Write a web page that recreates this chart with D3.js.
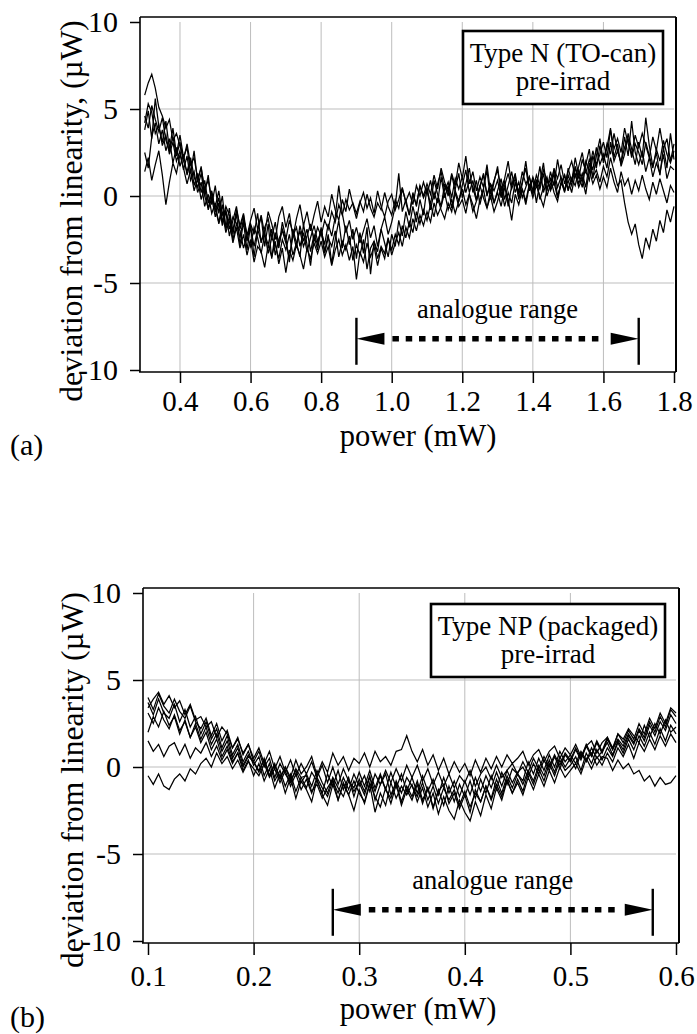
<!DOCTYPE html>
<html><head><meta charset="utf-8">
<script src="https://cdn.jsdelivr.net/npm/d3@7"></script>
<style>
body{margin:0;background:#fff}
svg{display:block}
text{font-family:"Liberation Serif","Times New Roman",Times,serif;fill:#000}
</style>
</head><body>
<svg id="chart" width="697" height="1034"></svg>
<script>
// ---------------- data ----------------
const yTicks = [-10, -5, 0, 5, 10];
const yTickLabels = ["-10", "-5", "0", "5", "10"];
const yGrid = [-5, 0, 5];

// panel (a): Type N (TO-can)
const aXTicks = [0.4, 0.6, 0.8, 1.0, 1.2, 1.4, 1.6, 1.8];
const aXTickLabels = ["0.4", "0.6", "0.8", "1.0", "1.2", "1.4", "1.6", "1.8"];
const aXGrid = [0.4, 0.6, 0.8, 1.0, 1.2, 1.4, 1.6];
const aPowerStart = 0.30, aPowerStep = 0.01;
const aTrace1 = [
 5.8, 6.5, 7.0, 6.2, 5.1, 4.6, 3.9, 4.4, 3.2, 3.6,
 2.9, 2.1, 3.0, 1.8, 2.2, 1.0, 1.6, 0.4, 0.9, -0.2,
 -0.6, 0.3, -1.1, -0.8, -1.9, -1.2, -1.6, -2.4, -1.3, -2.2,
 -1.8, -2.9, -1.9, -2.6, -2.1, -3.3, -2.4, -2.8, -3.6, -2.5,
 -3.1, -2.2, -3.4, -2.7, -2.0, -2.9, -2.3, -1.6, -2.6, -1.8,
 -2.3, -1.4, -1.9, -0.9, -1.5, -0.5, -1.1, -0.2, -0.8, -0.4,
 -1.0, -0.3, -0.9, 0.1, -0.7, -1.2, -0.4, -0.8, 0.2, -0.6,
 -1.1, -0.2, -0.7, 0.4, -0.3, 0.2, -0.5, 0.6, 0.0, 0.8,
 0.1, 0.9, -0.2, 0.7, 1.4, 0.3, 0.8, -0.1, 1.0, 0.4,
 1.1, 0.2, 0.9, 0.5, -0.3, 0.6, 1.2, 0.1, 0.7, 0.3,
 0.9, -0.1, 0.6, 1.3, 0.4, 1.0, 0.2, 1.4, 0.7, 1.1,
 0.3, 1.2, 0.6, 1.5, 0.9, 0.4, 1.6, 1.0, 1.8, 0.7,
 1.4, 2.0, 1.1, 1.7, 2.5, 1.3, 2.1, 1.5, 2.8, 1.8,
 2.4, 1.6, 3.1, 2.0, 2.6, 1.9, 3.4, 2.3, 4.3, 2.5,
 1.8, 2.6, 1.4, 2.2, 1.1, 1.9, 1.3, 2.4, 1.0, 1.7,
 1.5];
const aTrace2 = [
 4.2, 5.3, 4.8, 3.6, 4.1, 2.9, 3.5, 2.4, 3.1, 2.0,
 2.6, 1.5, 2.3, 0.9, 1.4, 0.2, 0.8, -0.6, 0.1, -1.0,
 -0.4, -1.6, -0.9, -2.1, -1.4, -2.7, -1.8, -3.0, -2.2, -3.4,
 -2.5, -3.8, -2.9, -3.2, -4.1, -2.8, -3.5, -2.6, -3.9, -3.0,
 -4.4, -3.1, -3.7, -2.8, -3.4, -4.2, -3.0, -3.6, -2.7, -3.3,
 -2.6, -3.5, -2.9, -4.0, -3.1, -2.5, -3.4, -2.8, -3.7, -2.9,
 -4.8, -3.2, -3.8, -2.7, -3.5, -2.9, -4.0, -3.0, -3.6, -2.5,
 -3.1, -2.2, -2.8, -1.7, -2.4, -1.5, -2.1, -0.9, -1.6, -0.8,
 -1.4, -0.5, -1.2, -0.1, -0.8, -1.3, -0.4, -0.9, 0.2, -0.6,
 -0.2, -1.0, 0.1, -0.5, -1.3, -0.2, 0.4, -0.7, 0.0, -0.9,
 -0.3, 0.5, -0.6, 0.2, -0.4, 0.8, -0.1, 0.4, -0.5, 0.6,
 0.1, 0.9, -0.2, 0.5, 1.1, 0.3, 0.8, -0.1, 0.7, 1.2,
 0.4, 1.0, 1.6, 0.7, 1.3, 0.5, 1.9, 1.1, 1.5, 0.8,
 1.7, 1.1, 2.2, 1.4, 0.6, 0.9, -0.4, -1.5, -2.2, -1.6,
 -2.8, -3.6, -2.4, -3.0, -1.9, -2.6, -1.4, -2.1, -0.8, -1.5,
 -0.6];
const aTrace3 = [
 2.5, 1.6, 3.4, 4.2, 3.0, 3.8, 2.6, 3.3, 1.9, 2.8,
 1.7, 2.4, 1.2, 2.0, 0.6, 1.3, 0.2, 0.9, -0.4, 0.3,
 -0.9, -0.1, -1.5, -0.6, -1.1, -2.0, -0.8, -1.7, -1.0, -2.3,
 -1.4, -0.7, -1.9, -1.1, -2.2, -0.9, -1.6, -2.5, -1.2, -0.6,
 -1.8, -1.0, -2.4, -1.3, -0.5, -1.7, -0.9, -2.0, -1.1, -0.3,
 -1.5, -0.6, -1.2, 0.1, -0.8, -1.4, -0.2, -0.9, 0.4, -0.5,
 -1.3, -0.4, 0.2, -0.7, -0.1, -1.0, 0.3, -0.6, -1.2, -0.3,
 0.1, -0.8, -0.2, 0.5, -0.4, -1.1, 0.2, -0.6, 0.6, -0.1,
 0.4, -0.5, 0.9, 0.1, -0.6, 0.7, 0.0, 1.2, 0.3, -0.3,
 0.6, 1.5, 0.2, 0.9, -0.2, 0.5, 1.3, 0.0, 0.7, -0.4,
 0.3, 1.0, -0.2, 0.6, 1.4, 0.2, 0.8, -0.1, 0.5, 1.1,
 0.2, 0.9, 0.4, 1.3, 0.0, 0.7, 1.5, 0.5, 1.1, 0.3,
 1.2, 0.6, 1.7, 1.0, 2.1, 1.4, 0.9, 2.3, 1.6, 2.9,
 2.0, 3.0, 2.4, 3.6, 2.6, 1.9, 2.8, 3.3, 2.2, 3.0,
 2.5, 1.8, 3.1, 2.3, 1.6, 2.7, 2.0, 3.2, 2.4, 1.9,
 2.6];
const aTrace4 = [
 1.4, 2.2, 0.9, 1.8, 2.6, 1.2, -0.5, 0.8, 1.9, 1.3,
 2.4, 1.6, 0.7, 1.5, 0.3, 1.0, -0.2, 0.5, -0.8, -0.1,
 -1.2, -0.4, -1.7, -0.9, -2.3, -1.4, -0.6, -1.9, -1.1, -2.6,
 -1.6, -2.2, -1.0, -2.7, -1.8, -1.3, -2.4, -1.5, -2.9, -1.9,
 -2.5, -1.4, -2.1, -3.0, -1.7, -2.6, -1.9, -3.2, -2.2, -2.8,
 -1.9, -3.3, -2.4, -2.9, -2.0, -3.5, -2.6, -3.1, -2.3, -3.7,
 -2.8, -3.4, -2.5, -4.2, -3.0, -2.6, -3.6, -2.9, -3.3, -2.4,
 -3.4, -2.7, -2.1, -2.9, -1.8, -2.4, -1.3, -2.0, -1.1, -1.7,
 -0.9, -1.5, -0.4, -1.1, -0.6, 0.2, -0.8, -0.2, -1.0, -0.3,
 0.4, -0.5, 0.1, -0.9, -0.3, 0.6, -0.1, -0.7, 0.3, -0.4,
 0.2, -0.6, 0.5, -0.2, -1.4, 0.1, -0.5, 0.4, -0.3, 0.7,
 -0.1, 0.6, 0.0, -0.6, 0.4, 1.0, 0.2, -0.3, 0.8, 0.3,
 0.9, 0.2, 1.3, 0.5, 1.0, 0.1, 1.5, 0.7, 1.2, 0.4,
 1.1, 0.5, 1.6, 0.8, 0.2, 1.4, 0.6, 1.0, 0.1, 0.9,
 0.3, 1.2, 0.4, -0.2, 0.8, 0.1, 1.0, 0.3, -0.4, 0.6,
 0.2];
const aTrace5 = [
 4.6, 3.9, 5.2, 4.4, 3.7, 4.5, 3.2, 2.6, 3.4, 2.3,
 3.1, 2.0, 1.4, 2.2, 1.1, 0.5, 1.3, 0.0, -0.7, 0.2,
 -0.8, -1.5, -0.5, -1.9, -1.2, -2.5, -1.6, -2.0, -3.0, -2.3,
 -2.9, -1.8, -2.4, -3.3, -2.2, -2.8, -1.9, -3.4, -2.5, -2.0,
 -2.7, -3.6, -2.3, -1.8, -2.9, -2.1, -3.2, -2.4, -1.7, -2.6,
 -2.0, -2.8, -1.6, -2.3, -1.2, 0.6, -1.0, -2.1, -1.4, -2.5,
 -1.8, -2.7, -2.0, -1.3, -2.4, -1.7, -2.9, -1.9, -1.2, -2.2,
 -1.5, -0.6, 1.3, -0.9, -0.2, -1.1, 0.1, -0.5, 0.6, 0.0,
 0.7, 0.1, 1.2, 0.4, 1.6, 0.8, 0.2, 1.3, 0.6, 1.9,
 1.0, 2.3, 0.7, 1.4, 0.3, 1.1, 0.5, 1.8, 0.2, 0.9,
 1.5, 0.4, 1.0, 2.0, 0.6, 1.2, 0.1, 0.8, 1.6, 0.3,
 1.1, 0.5, 1.7, 0.2, 0.9, 0.4, 1.3, 0.0, 0.7, 1.2,
 0.3, 1.0, 0.6, 1.5, 0.9, 2.0, 1.4, 2.6, 1.8, 2.4,
 3.1, 2.2, 3.8, 2.7, 3.3, 2.5, 3.9, 3.0, 2.4, 3.5,
 2.8, 3.6, 2.9, 2.2, 3.4, 2.6, 3.9, 2.7, 3.3, 2.0,
 3.0];
const aTrace6 = [
 3.8, 4.9, 3.3, 5.6, 4.0, 3.1, 4.3, 2.7, 3.9, 2.4,
 3.5, 2.2, 2.8, 1.3, 2.6, 0.8, 1.7, 0.1, 1.2, -0.5,
 0.6, -1.0, 0.0, -1.8, -0.7, -2.2, -1.0, -2.8, -1.5, -3.1,
 -1.7, -3.5, -2.0, -1.2, -2.9, -1.6, -3.6, -2.1, -3.0, -1.5,
 -2.4, -3.8, -1.9, -2.7, -3.5, -1.6, -2.8, -4.0, -2.3, -3.1,
 -1.8, -3.2, -2.2, -3.9, -2.5, -1.4, -3.0, -1.7, -2.8, -1.9,
 -3.6, -2.1, -3.3, -1.8, -4.5, -2.6, -3.2, -1.9, -2.7, -3.5,
 -2.2, -2.9, -1.4, -2.3, -0.9, -1.8, -0.6, -1.5, -0.2, -1.1,
 0.5, -0.8, 0.2, -0.4, 1.1, -0.1, 0.6, -0.7, 0.4, 1.3,
 -0.1, 0.7, 1.6, 0.2, 0.9, -0.5, 0.4, 1.5, -0.2, 0.8,
 1.7, 0.0, 0.9, -0.6, 0.6, 1.3, -0.2, 0.7, 2.0, 0.4,
 1.0, -0.4, 0.8, 1.9, 0.3, 1.4, 0.6, 2.1, 0.9, 0.2,
 1.6, 0.8, 2.2, 1.2, 0.5, 1.8, 2.7, 1.0, 2.3, 3.3,
 1.9, 2.8, 3.9, 2.2, 3.0, 1.7, 2.4, 3.6, 2.7, 1.8,
 3.1, 2.2, 4.5, 2.9, 1.7, 2.5, 1.2, 2.8, 1.6, 3.6,
 2.1];
const aTraces = [aTrace1, aTrace2, aTrace3, aTrace4, aTrace5, aTrace6];
const aRange = [0.9, 1.7];

// panel (b): Type NP (packaged)
const bXTicks = [0.1, 0.2, 0.3, 0.4, 0.5, 0.6];
const bXTickLabels = ["0.1", "0.2", "0.3", "0.4", "0.5", "0.6"];
const bXGrid = [0.2, 0.3, 0.4, 0.5];
const bPowerStart = 0.10, bPowerStep = 0.005;
const bTrace1 = [
 3.4, 3.9, 4.3, 3.6, 4.1, 3.4, 3.8, 3.0, 3.6, 2.7,
 2.9, 2.3, 2.6, 1.7, 2.3, 1.9, 1.1, 1.6, 0.8, 1.3,
 0.3, 0.9, 0.0, 0.5, -0.6, 0.2, -0.4, -0.9, -0.1, -0.6,
 -1.2, -0.3, -0.8, -1.5, -0.4, -1.1, -0.2, -1.3, -0.6, -1.7,
 -0.7, -1.4, -0.5, -1.9, -1.0, -0.4, -1.6, -0.9, -2.0, -1.1,
 -1.7, -0.8, -1.9, -1.2, -2.3, -1.4, -1.0, -2.1, -1.5, -2.4,
 -1.6, -2.6, -1.3, -2.0, -1.1, -1.8, -0.7, -1.5, -0.5, -1.2,
 -0.4, -1.0, -0.2, -0.8, 0.1, -0.5, 0.4, -0.3, 0.6, 0.0,
 0.5, -0.1, 0.8, 0.3, 1.1, 0.5, 0.9, 1.4, 0.7, 1.5,
 1.0, 1.8, 1.3, 2.1, 1.5, 2.4, 1.8, 2.6, 2.1, 3.0,
 2.5];
const bTrace2 = [
 3.1, 2.5, 3.4, 2.7, 2.2, 3.0, 2.1, 2.6, 1.7, 2.3,
 1.4, 2.0, 1.0, 1.6, 0.6, 1.2, 0.3, 0.8, -0.2, 0.4,
 -0.5, 0.2, -0.8, -0.1, -1.2, -0.4, -1.5, -0.6, -1.8, -0.8,
 -1.3, -2.0, -0.7, -1.6, -2.2, -1.0, -1.9, -0.9, -1.6, -2.5,
 -1.3, -2.1, -1.0, -2.6, -1.5, -2.2, -0.9, -1.8, -1.1, -1.6,
 -1.0, -2.0, -1.2, -2.3, -1.5, -2.7, -1.7, -2.5, -3.0, -1.9,
 -2.6, -3.1, -2.0, -2.8, -1.6, -2.4, -1.2, -1.9, -0.8, -1.5,
 -0.7, -1.4, -0.3, -1.0, -0.1, -0.8, 0.2, -0.5, 0.4, -0.2,
 0.1, 0.6, -0.2, 0.8, 0.2, 1.0, 0.4, 1.1, 0.6, 1.4,
 0.8, 1.6, 1.0, 1.8, 1.2, 2.0, 1.3, 2.2, 1.5, 2.4,
 1.9];
const bTrace3 = [
 2.0, 2.9, 2.3, 3.2, 2.4, 2.9, 1.9, 2.7, 1.7, 2.5,
 1.6, 2.3, 1.3, 1.9, 0.9, 1.5, 0.5, 1.1, 0.1, 0.7,
 0.3, -0.3, 0.5, -0.5, 0.2, -0.7, 0.0, -0.6, 0.4, -0.4,
 0.0, 0.6, -0.5, 0.3, -0.3, 0.8, 0.1, 0.6, -0.2, 0.5,
 0.2, 0.8, 0.0, 0.9, 0.3, 0.6, 0.1, 0.9, 1.0, 1.8,
 0.9, 0.3, 1.0, 0.1, 0.7, -0.2, 0.5, -0.4, 0.3, -0.3,
 0.2, -0.5, 0.4, -0.3, 0.5, -0.1, 0.6, 0.0, 0.7, 0.2,
 0.5, 0.9, 0.1, 0.7, 1.0, 0.3, 0.9, 1.2, 0.5, 1.1,
 0.7, 1.3, 0.6, 1.2, 1.5, 0.8, 1.4, 1.7, 1.0, 1.6,
 1.2, 1.9, 1.4, 2.2, 1.7, 2.6, 2.0, 2.9, 2.3, 3.3,
 2.9];
const bTrace4 = [
 1.5, 0.9, 1.3, 0.6, 1.2, 1.4, 0.7, 1.3, 0.5, 1.1,
 0.8, 1.4, 0.6, 1.2, 0.4, 1.0, 0.2, 0.8, 0.0, 0.6,
 0.3, -0.2, 0.4, -0.5, 0.1, -0.6, 0.0, -0.8, -0.2, -0.9,
 -0.4, -1.1, -0.2, -0.9, -1.5, -0.6, -1.2, -1.7, -0.8, -1.4,
 -0.9, -1.6, -0.6, -1.4, -0.5, -1.3, -1.8, -0.8, -1.5, -0.6,
 -1.1, -1.7, -0.9, -1.9, -1.1, -2.1, -1.2, -1.9, -1.3, -2.2,
 -1.4, -2.3, -1.5, -2.0, -1.1, -1.9, -1.0, -1.7, -0.7, -1.5,
 -0.9, -1.6, -0.6, -1.3, -0.4, -1.1, -0.2, -0.9, 0.0, -0.6,
 -0.2, 0.2, -0.4, 0.5, -0.1, 0.6, 0.1, 0.8, 0.3, 1.1,
 0.6, 1.3, 0.5, 1.4, 0.9, 1.6, 1.0, 1.8, 1.2, 1.9,
 1.4];
const bTrace5 = [
 -0.5, -1.0, -0.4, -1.1, -1.3, -0.7, -0.4, -0.8, -0.1, -0.4,
 0.2, 0.5, 0.0, 0.8, 0.2, 0.6, -0.1, 0.4, -0.3, 0.3,
 -0.1, -0.5, 0.2, -0.6, -0.1, -0.9, -0.2, -1.1, -0.4, -1.3,
 -0.7, -1.5, -0.6, -1.2, -1.7, -0.8, -1.5, -0.6, -1.3, -0.4,
 -1.1, -0.5, -1.4, -0.4, -1.0, -0.2, -0.9, -0.1, -0.8, 0.1,
 -0.6, 0.1, -0.8, -0.1, -1.0, -0.3, -1.1, -0.4, -1.2, -0.5,
 -0.9, -0.2, -1.1, -0.4, 0.0, -0.7, 0.1, -0.6, -0.2, 0.2,
 -0.4, 0.3, -0.3, 0.5, -0.1, 0.6, 0.0, 0.7, 0.1, 0.8,
 0.4, 1.1, 0.5, 1.3, 0.7, 1.5, 0.9, 1.7, 1.1, 1.9,
 1.6, 2.2, 1.8, 1.4, 2.4, 1.7, 2.5, 1.9, 2.7, 2.0,
 2.3];
const bTrace6 = [
 3.7, 3.0, 3.9, 3.1, 2.8, 3.6, 2.6, 3.3, 2.3, 2.9,
 1.9, 2.6, 1.6, 2.2, 1.1, 1.8, 0.7, 1.3, 0.3, 0.9,
 0.1, 0.6, -0.5, 0.2, -0.8, -0.2, -1.1, -0.4, -1.4, -0.6,
 -0.5, -1.4, -1.0, -1.8, -1.2, -0.7, -1.9, -1.0, -1.6, -0.8,
 -1.5, -2.0, -0.9, -1.7, -2.3, -1.2, -2.1, -1.0, -2.2, -1.3,
 -1.9, -1.0, -2.1, -1.2, -2.4, -1.3, -2.2, -1.1, -2.0, -1.0,
 -1.7, -0.8, -1.8, -0.7, -1.5, -0.5, -1.3, -0.3, -1.0, -0.1,
 -0.4, -0.8, 0.3, -0.4, 0.5, -0.2, 0.7, 0.0, 0.9, 0.3,
 0.7, 0.2, 0.9, 0.4, 0.8, 0.1, 0.6, 0.5, -0.2, 0.4,
 -0.1, 0.2, -0.4, -0.2, -0.8, -0.5, -1.1, -0.6, -1.0, -0.9,
 -0.5];
const bTrace7 = [
 4.0, 3.3, 4.2, 3.5, 3.1, 3.9, 3.2, 2.8, 3.5, 2.6,
 2.2, 2.8, 1.8, 2.5, 1.5, 2.1, 1.1, 1.7, 0.7, 1.3,
 0.5, 1.1, 0.2, 0.9, -0.1, 0.6, -0.3, 0.4, -0.5, 0.2,
 -0.4, 0.3, -0.6, 0.1, -0.9, 0.0, -1.0, -0.1, -0.8, -1.2,
 -0.3, -1.1, -0.2, -1.2, -0.4, -1.3, -0.3, -1.2, -0.4, -1.4,
 -0.6, -1.5, -0.5, -1.4, -0.7, -1.6, -0.6, -1.5, -0.8, -1.7,
 -0.8, -1.6, -0.6, -1.4, -0.5, -1.2, -0.3, -1.1, -0.2, -0.9,
 -0.3, 0.0, -0.6, 0.2, -0.4, 0.4, -0.2, 0.6, -0.1, 0.7,
 0.3, 1.0, 0.4, 1.2, 0.6, 1.4, 0.8, 1.6, 1.0, 1.9,
 1.4, 2.1, 1.6, 2.5, 1.9, 2.8, 2.2, 3.1, 2.5, 3.4,
 3.1];
const bTraces = [bTrace1, bTrace2, bTrace3, bTrace4, bTrace5, bTrace6, bTrace7];
const bRange = [0.275, 0.578];

const rangeLabel = "analogue range";
const xTitle = "power (mW)";

// ---------------- drawing ----------------
const svg = d3.select("#chart");
const FONT = '"Liberation Serif","Times New Roman",Times,serif';

function drawPanel(o) {
  const g = svg.append("g");
  const x = d3.scaleLinear().domain(o.xDomain).range(o.xRange);
  const y = d3.scaleLinear().domain([-10, 10]).range(o.yRange);
  const f = o.frame;

  // grid
  g.append("g").selectAll("line").data(o.xGrid).join("line")
    .attr("x1", d => x(d)).attr("x2", d => x(d))
    .attr("y1", y(10)).attr("y2", f.b)
    .attr("stroke", "#bdbdbd").attr("stroke-width", 1);
  g.append("g").selectAll("line").data(yGrid).join("line")
    .attr("x1", f.l).attr("x2", x(o.xDomain[1]))
    .attr("y1", d => y(d)).attr("y2", d => y(d))
    .attr("stroke", "#bdbdbd").attr("stroke-width", 1);

  // traces
  const line = d3.line()
    .x((d, i) => x(o.start + i * o.step))
    .y(d => y(d));
  g.append("g").selectAll("path").data(o.traces).join("path")
    .attr("d", line)
    .attr("fill", "none").attr("stroke", "#000")
    .attr("stroke-width", 1.25).attr("stroke-linejoin", "miter");

  // frame
  g.append("line").attr("x1", f.l).attr("x2", f.r).attr("y1", f.t).attr("y2", f.t)
    .attr("stroke", "#000").attr("stroke-width", 1.3);
  g.append("line").attr("x1", f.r).attr("x2", f.r).attr("y1", f.t).attr("y2", f.b)
    .attr("stroke", "#000").attr("stroke-width", 2);
  g.append("line").attr("x1", f.l).attr("x2", f.l).attr("y1", f.t).attr("y2", f.b)
    .attr("stroke", "#000").attr("stroke-width", 1.6);
  g.append("line").attr("x1", f.l - 1).attr("x2", f.r).attr("y1", f.b).attr("y2", f.b)
    .attr("stroke", "#000").attr("stroke-width", 1.6);

  // axes
  const ya = g.append("g").attr("transform", `translate(${f.l},0)`)
    .call(d3.axisLeft(y).tickValues(yTicks)
      .tickFormat((d, i) => yTickLabels[i])
      .tickSize(10).tickPadding(o.yPad).tickSizeOuter(0));
  ya.select(".domain").remove();
  ya.selectAll("line").attr("stroke", "#000").attr("stroke-width", 1.5);
  ya.selectAll("text").attr("font-family", FONT).attr("font-size", 30).attr("fill", "#000");

  const xa = g.append("g").attr("transform", `translate(0,${f.b})`)
    .call(d3.axisBottom(x).tickValues(o.xTicks)
      .tickFormat((d, i) => o.xTickLabels[i])
      .tickSize(o.xTickSize).tickPadding(o.xPad).tickSizeOuter(0));
  xa.select(".domain").remove();
  xa.selectAll("line").attr("stroke", "#000").attr("stroke-width", 1.5);
  xa.selectAll("text").attr("font-family", FONT).attr("font-size", 29).attr("fill", "#000");

  // axis titles
  g.append("text").attr("transform", `translate(${o.yTitlePos[0]},${o.yTitlePos[1]}) rotate(-90)`)
    .attr("text-anchor", "middle").attr("font-size", 31.5).text(o.yTitle);
  g.append("text").attr("x", o.xTitlePos[0]).attr("y", o.xTitlePos[1])
    .attr("text-anchor", "middle").attr("font-size", 30.5).text(xTitle);
  g.append("text").attr("x", 10).attr("y", o.tagY).attr("font-size", 30).text(o.tag);

  // legend box
  const L = o.legend;
  g.append("rect").attr("x", L.x).attr("y", L.y).attr("width", L.w).attr("height", L.h)
    .attr("fill", "#fff").attr("stroke", "#000").attr("stroke-width", 2.6);
  g.append("text").attr("x", L.x + L.w / 2).attr("y", L.y + 31)
    .attr("text-anchor", "middle").attr("font-size", 27).text(o.legendLines[0]);
  g.append("text").attr("x", L.x + L.w / 2).attr("y", L.y + 58.5)
    .attr("text-anchor", "middle").attr("font-size", 27).text(o.legendLines[1]);

  // analogue range arrow
  const r0 = x(o.range[0]), r1 = x(o.range[1]), ay = y(-8.2);
  g.append("line").attr("x1", r0).attr("x2", r0).attr("y1", y(-7.0)).attr("y2", y(-9.7))
    .attr("stroke", "#000").attr("stroke-width", 2.4);
  g.append("line").attr("x1", r1).attr("x2", r1).attr("y1", y(-7.0)).attr("y2", y(-9.7))
    .attr("stroke", "#000").attr("stroke-width", 2.4);
  g.append("path").attr("d", `M${r0},${ay} L${r0 + 28},${ay - 6} L${r0 + 28},${ay + 6} Z`).attr("fill", "#000");
  g.append("path").attr("d", `M${r1},${ay} L${r1 - 28},${ay - 6} L${r1 - 28},${ay + 6} Z`).attr("fill", "#000");
  g.append("line").attr("x1", r0 + 36).attr("x2", r1 - 36).attr("y1", ay).attr("y2", ay)
    .attr("stroke", "#000").attr("stroke-width", 5.5).attr("stroke-dasharray", "6.5,6.8");
  g.append("text").attr("x", (r0 + r1) / 2).attr("y", y(-7.0))
    .attr("text-anchor", "middle").attr("font-size", 26.5).text(rangeLabel);
}

drawPanel({
  xDomain: [0.3, 1.8], xRange: [144.7, 674],
  yRange: [370, 22],
  frame: { l: 140, r: 676, t: 17, b: 372 },
  xGrid: aXGrid, xTicks: aXTicks, xTickLabels: aXTickLabels,
  xTickSize: 11, xPad: 7, yPad: 12,
  traces: aTraces, start: aPowerStart, step: aPowerStep,
  yTitle: "deviation from linearity, (\u00b5W)", yTitlePos: [82, 211],
  xTitlePos: [418, 446], tag: "(a)", tagY: 455,
  legend: { x: 463, y: 31, w: 200, h: 73 },
  legendLines: ["Type N (TO-can)", "pre-irrad"],
  range: aRange
});

drawPanel({
  xDomain: [0.1, 0.6], xRange: [148, 676],
  yRange: [941, 593],
  frame: { l: 143, r: 679, t: 588, b: 943 },
  xGrid: bXGrid, xTicks: bXTicks, xTickLabels: bXTickLabels,
  xTickSize: 12, xPad: 10, yPad: 12,
  traces: bTraces, start: bPowerStart, step: bPowerStep,
  yTitle: "deviation from linearity (\u00b5W)", yTitlePos: [83, 780],
  xTitlePos: [418, 1019], tag: "(b)", tagY: 1027,
  legend: { x: 431, y: 604, w: 234, h: 73 },
  legendLines: ["Type NP (packaged)", "pre-irrad"],
  range: bRange
});
</script>
</body></html>
